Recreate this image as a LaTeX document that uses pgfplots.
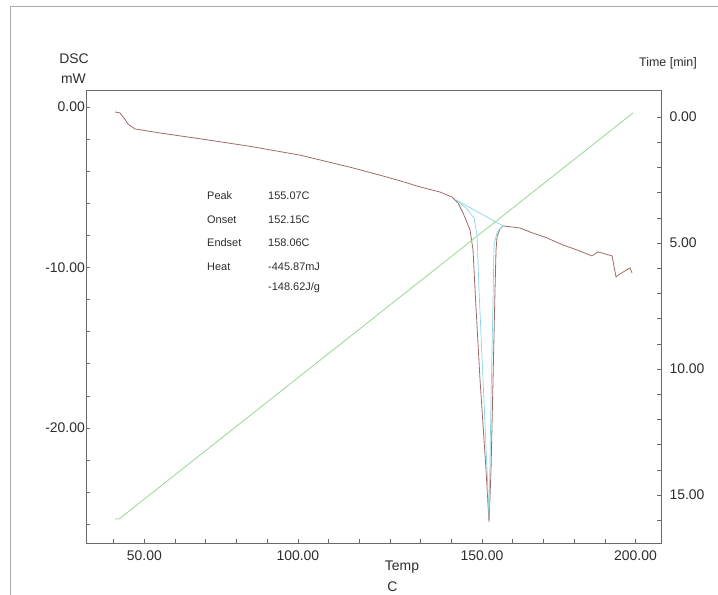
\documentclass[border=0pt]{standalone}
\usepackage{fontspec}
\setmainfont{Liberation Sans}
\usepackage{pgfplots}
\pgfplotsset{compat=1.18}

\definecolor{dscline}{RGB}{158,108,104}
\definecolor{evalline}{RGB}{135,215,228}
\definecolor{timeline}{RGB}{150,215,150}
\definecolor{axisgray}{RGB}{105,105,105}
\definecolor{txt}{RGB}{45,45,45}
\definecolor{framegray}{RGB}{170,170,170}

% common frame for both axes (temperature on x)
\pgfplotsset{dscaxis/.style={
    scale only axis, width=575bp, height=453bp,
    at={(86bp,52bp)}, anchor=south west,
    xmin=21.0, xmax=208.3,
    axis line style={axisgray, line width=0.8bp},
    every tick/.style={axisgray, line width=0.6bp},
    tick align=inside,
    major tick length=4bp, minor tick length=4bp,
    tick label style={font=\fontsize{14}{16}\selectfont, text=txt},
}}

\begin{document}
\begin{tikzpicture}[x=1bp,y=1bp]
\path[use as bounding box] (0,0) rectangle (718,595);
\draw[framegray, line width=1bp] (10,0) -- (10,588) -- (718,588);

% DSC signal, left axis
\begin{axis}[dscaxis,
    ymin=-27.17, ymax=1.06,
    xtick={40,90,150,200}, xticklabels={50.00,100.00,150.00,200.00},
    minor xtick={30,50,60,70,80,100,110,120,130,140,160,170,180,190},
    ytick={-20,-10,0}, yticklabels={-20.00,-10.00,0.00},
    minor ytick={-26,-24,-22,-18,-16,-14,-12,-8,-6,-4,-2},
    xtick pos=left, ytick pos=left,
    yticklabel style={inner sep=1bp},
    xticklabel style={yshift=-4bp},
]
\addplot[dscline, line width=0.8bp] coordinates {
    (30.46,-0.31) (32.08,-0.37) (33.38,-0.69) (34.68,-1.06) (36.97,-1.37)
    (45.11,-1.62) (58.14,-1.98) (74.43,-2.45) (90.72,-3.00) (107.0,-3.75)
    (116.78,-4.25) (123.29,-4.60) (129.8,-4.98) (136.32,-5.30) (140.23,-5.61)
    (142.18,-5.98) (143.81,-6.60) (146.09,-7.66) (147.07,-8.91) (147.72,-11.40)
    (149.35,-17.01) (151.30,-22.62) (152.28,-25.86) (152.93,-22.62) (153.58,-17.01)
    (154.23,-11.40) (154.56,-8.91) (154.89,-8.10) (155.86,-7.60) (156.84,-7.41)
    (162.38,-7.54) (165.64,-7.79) (171.17,-8.16) (176.38,-8.60) (180.94,-8.91)
    (185.83,-9.28) (187.79,-9.03) (192.35,-9.28) (193.65,-10.59) (194.95,-10.40)
    (198.21,-10.03) (198.86,-10.34)
};
% evaluation lines (baseline and peak limits)
\addplot[evalline, line width=0.7bp] coordinates {(141.53,-5.79) (156.84,-7.41)};
\addplot[evalline, line width=0.7bp] coordinates {
    (141.53,-5.79) (144.79,-6.29) (147.39,-6.92) (148.37,-7.98) (149.02,-11.40)
    (150.33,-17.01) (151.63,-22.62) (152.28,-25.42)
};
\addplot[evalline, line width=0.7bp] coordinates {
    (156.84,-7.41) (154.89,-7.79) (153.91,-8.60) (153.58,-12.02) (152.93,-18.26)
    (152.28,-25.42)
};
\end{axis}

% time, right axis
\begin{axis}[dscaxis,
    axis x line=none, axis y line*=right, y dir=reverse,
    ymin=-1.07, ymax=16.9,
    ytick={0,5,10,15}, yticklabels={0.00,5.00,10.00,15.00},
    minor ytick={1,2,3,4,6,7,8,9,11,12,13,14,16},
    yticklabel style={anchor=west, xshift=5bp},
]
\addplot[timeline, line width=0.8bp] coordinates {
    (30.46,15.95) (31.76,15.95) (32.8,15.85) (199.19,-0.16)
};
\end{axis}

\begin{scope}[every node/.style={text=txt, font=\fontsize{14}{16}\selectfont}]
\node at (74,536) {DSC};
\node at (73.5,516) {mW};
\node at (668,532) {\fontsize{12.5}{14}\selectfont Time [min]};
\node at (402,28) {Temp};
\node at (392.5,8) {C};
\end{scope}

\begin{scope}[every node/.style={text=txt, font=\fontsize{11}{13}\selectfont, anchor=west, inner sep=0pt}]
\node at (207,399) {Peak};   \node at (268,399) {155.07C};
\node at (207,375) {Onset};  \node at (268,375) {152.15C};
\node at (207,352) {Endset}; \node at (268,352) {158.06C};
\node at (207,328) {Heat};   \node at (268,328) {-445.87mJ};
                             \node at (268,307) {-148.62J/g};
\end{scope}
\end{tikzpicture}
\end{document}
